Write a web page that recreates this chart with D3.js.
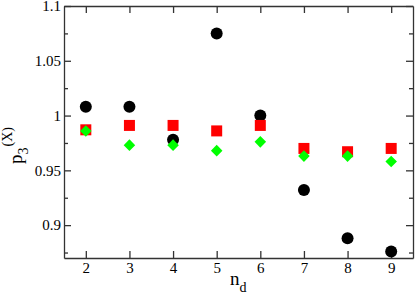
<!DOCTYPE html>
<html>
<head>
<meta charset="utf-8">
<script src="https://cdn.jsdelivr.net/npm/d3@7"></script>
<style>
  body { margin: 0; background: #fff; }
  svg { display: block; }
  .axis path, .axis line { stroke: #333; stroke-width: 1.3; }
</style>
</head>
<body>
<div id="chart"></div>
<script>
// n_d values
var nd = [2, 3, 4, 5, 6, 7, 8, 9];

// series
var blackCircles = [1.008, 1.008, 0.978, 1.075, 1.000, 0.932, 0.888, 0.876];
var redSquares   = [0.987, 0.991, 0.991, 0.986, 0.991, 0.970, 0.967, 0.970];
var greenDiamonds = [0.986, 0.973, 0.973, 0.968, 0.976, 0.963, 0.963, 0.958];

var yMajor = [0.9, 0.95, 1, 1.05, 1.1];
var yMinor = [0.875, 0.925, 0.975, 1.025, 1.075];

var serif = "'Liberation Serif', 'Times New Roman', Times, serif";

var margin = { top: 6, right: 2, bottom: 37, left: 64 };
var width = 415 - margin.left - margin.right;
var height = 295 - margin.top - margin.bottom;

var svg = d3.select("#chart").append("svg")
  .attr("width", 415)
  .attr("height", 295)
  .append("g")
  .attr("transform", "translate(" + margin.left + "," + margin.top + ")");

var x = d3.scaleLinear().domain([1.5, 9.5]).range([0, width]);
var y = d3.scaleLinear().domain([0.87, 1.1]).range([height, 0]);

var fmt = function(d) { return String(+d.toFixed(3)); };

// axes, ticks pointing inward
var xAxisGroup = svg.append("g").attr("class", "axis")
  .attr("transform", "translate(0," + height + ")")
  .call(d3.axisBottom(x).tickValues(nd).tickSize(-7).tickPadding(4.5).tickSizeOuter(0));

svg.append("g").attr("class", "axis")
  .call(d3.axisTop(x).tickValues(nd).tickSize(-7).tickFormat("").tickSizeOuter(0));

var yAxisGroup = svg.append("g").attr("class", "axis")
  .call(d3.axisLeft(y).tickValues(yMajor).tickSize(-7).tickPadding(3).tickFormat(fmt).tickSizeOuter(0));

svg.append("g").attr("class", "axis")
  .call(d3.axisLeft(y).tickValues(yMinor).tickSize(-4).tickFormat("").tickSizeOuter(0))
  .select(".domain").remove();

svg.append("g").attr("class", "axis")
  .attr("transform", "translate(" + width + ",0)")
  .call(d3.axisRight(y).tickValues(yMajor).tickSize(-7).tickFormat("").tickSizeOuter(0));

svg.append("g").attr("class", "axis")
  .attr("transform", "translate(" + width + ",0)")
  .call(d3.axisRight(y).tickValues(yMinor).tickSize(-4).tickFormat("").tickSizeOuter(0))
  .select(".domain").remove();

[xAxisGroup, yAxisGroup].forEach(function(g) {
  g.attr("font-family", serif).attr("font-size", 15);
  g.selectAll("text").attr("fill", "#000");
});

// markers
svg.selectAll(".circ")
  .data(blackCircles)
  .enter().append("circle")
  .attr("class", "circ")
  .attr("cx", function(d, i) { return x(nd[i]); })
  .attr("cy", function(d) { return y(d); })
  .attr("r", 6)
  .attr("fill", "#000");

svg.selectAll(".sq")
  .data(redSquares)
  .enter().append("rect")
  .attr("class", "sq")
  .attr("x", function(d, i) { return x(nd[i]) - 5.5; })
  .attr("y", function(d) { return y(d) - 5.5; })
  .attr("width", 11)
  .attr("height", 11)
  .attr("fill", "#ff0000");

var dia = d3.symbol().type(d3.symbolDiamond2).size(85);
svg.selectAll(".dia")
  .data(greenDiamonds)
  .enter().append("path")
  .attr("class", "dia")
  .attr("transform", function(d, i) { return "translate(" + x(nd[i]) + "," + y(d) + ")"; })
  .attr("d", dia)
  .attr("fill", "#00ff00");

// x label
var xl = svg.append("text")
  .attr("x", 166).attr("y", 279)
  .attr("font-family", serif).attr("font-size", 19);
xl.append("tspan").text("n");
xl.append("tspan").attr("dy", 7).attr("font-size", 14).text("d");

// y label
var yl = svg.append("text")
  .attr("transform", "translate(-42,158) rotate(-90)")
  .attr("font-family", serif).attr("font-size", 19);
yl.append("tspan").text("p");
yl.append("tspan").attr("dy", 6).attr("font-size", 14).text("3");
yl.append("tspan").attr("dy", -16).attr("dx", 1).attr("font-size", 14).text("(X)");
</script>
</body>
</html>
